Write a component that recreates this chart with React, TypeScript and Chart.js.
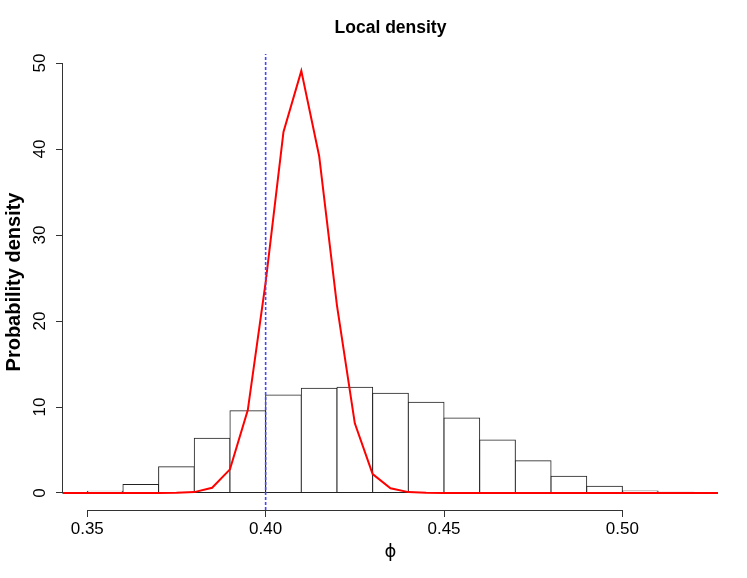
import React, { useEffect, useRef } from "react";
import { Chart, registerables } from "chart.js";

Chart.register(...registerables);

// Histogram (density scale), bins of width 0.01
const histBreaks = [0.35, 0.36, 0.37, 0.38, 0.39, 0.40, 0.41, 0.42, 0.43, 0.44, 0.45, 0.46, 0.47, 0.48, 0.49, 0.50, 0.51, 0.52];
const histDensity = [0.2, 1.0, 3.06, 6.36, 9.57, 11.4, 12.17, 12.29, 11.6, 10.55, 8.72, 6.16, 3.76, 1.94, 0.78, 0.23, 0.08];

// Red local density curve
const densityX = [
  0.340, 0.345, 0.350, 0.355, 0.360, 0.365, 0.370, 0.375, 0.380, 0.385,
  0.390, 0.395, 0.400, 0.405, 0.410, 0.415, 0.420, 0.425, 0.430, 0.435,
  0.440, 0.445, 0.450, 0.455, 0.460, 0.465, 0.470, 0.475, 0.480, 0.485,
  0.490, 0.495, 0.500, 0.505, 0.510, 0.515, 0.520, 0.525, 0.530,
];
const densityY = [
  0, 0, 0, 0, 0, 0, 0, 0.02, 0.1, 0.6,
  2.75, 9.65, 24.5, 42.0, 49.1, 39.2, 21.8, 8.1, 2.2, 0.55,
  0.1, 0.02, 0, 0, 0, 0, 0, 0, 0, 0,
  0, 0, 0, 0, 0, 0, 0, 0, 0,
];

// Vertical reference line
const markerX = 0.40;

// Axes
const xRange = [0.3432, 0.5268];
const yRange = [-1.98, 51.06];
const xTicks = [0.35, 0.40, 0.45, 0.50];
const xTickLabels = ["0.35", "0.40", "0.45", "0.50"];
const yTicks = [0, 10, 20, 30, 40, 50];
const yTickLabels = ["0", "10", "20", "30", "40", "50"];

const titleText = "Local density";
const xTitle = "\u03D5";
const yTitle = "Probability density";

const FONT = "'Liberation Sans', Arial, Helvetica, sans-serif";

const rAxesPlugin = {
  id: "rAxes",
  afterDraw(chart: any) {
    const { ctx, chartArea, scales } = chart;
    const x = scales.x;
    const y = scales.y;
    ctx.save();
    ctx.strokeStyle = "#333";
    ctx.lineWidth = 1;
    const by = Math.round(chartArea.bottom) + 0.5;
    ctx.beginPath();
    ctx.moveTo(Math.round(x.getPixelForValue(xTicks[0])) + 0.5, by);
    ctx.lineTo(Math.round(x.getPixelForValue(xTicks[xTicks.length - 1])) + 0.5, by);
    ctx.stroke();
    const lx = Math.round(chartArea.left) - 0.5;
    ctx.beginPath();
    ctx.moveTo(lx, Math.round(y.getPixelForValue(yTicks[0])) + 0.5);
    ctx.lineTo(lx, Math.round(y.getPixelForValue(yTicks[yTicks.length - 1])) + 0.5);
    ctx.stroke();

    ctx.fillStyle = "#000";
    ctx.font = "17px " + FONT;
    ctx.textAlign = "center";
    ctx.textBaseline = "alphabetic";
    yTicks.forEach((v, i) => {
      const py = y.getPixelForValue(v);
      ctx.save();
      ctx.translate(chartArea.left - 18, py);
      ctx.rotate(-Math.PI / 2);
      ctx.fillText(yTickLabels[i], 0, 0);
      ctx.restore();
    });
    ctx.restore();
  },
};

export default function App() {
  const canvasRef = useRef<HTMLCanvasElement | null>(null);

  useEffect(() => {
    document.body.style.margin = "0";
    document.body.style.overflow = "hidden";
    const canvas = canvasRef.current;
    if (!canvas) return;

    const binCenters = histDensity.map((_, i) => (histBreaks[i] + histBreaks[i + 1]) / 2);

    const chart = new Chart(canvas, {
      type: "bar",
      data: {
        datasets: [
          {
            type: "line",
            data: [
              { x: markerX, y: yRange[0] },
              { x: markerX, y: yRange[1] },
            ],
            borderColor: "rgb(70,70,255)",
            borderWidth: 1.6,
            borderDash: [3, 2],
            pointRadius: 0,
            tension: 0,
          } as any,
          {
            type: "line",
            data: densityX.map((xv, i) => ({ x: xv, y: densityY[i] })),
            borderColor: "#ff0000",
            borderWidth: 2,
            pointRadius: 0,
            tension: 0,
          } as any,
          {
            type: "bar",
            data: binCenters.map((c, i) => ({ x: c, y: histDensity[i] })),
            backgroundColor: "#ffffff",
            borderColor: "#222",
            borderWidth: 1,
            borderSkipped: false,
            inflateAmount: 0.5,
            barPercentage: 1,
            categoryPercentage: 1,
          } as any,
        ],
      },
      options: {
        responsive: false,
        animation: false,
        layout: { padding: { left: 0, right: 29, top: 0, bottom: 0 } },
        plugins: {
          legend: { display: false },
          tooltip: { enabled: false },
          title: {
            display: true,
            text: titleText,
            fullSize: false,
            color: "#000",
            font: { family: FONT, size: 17.5, weight: "bold" },
            padding: { top: 18, bottom: 15 },
          },
        },
        scales: {
          x: {
            type: "linear",
            min: xRange[0],
            max: xRange[1],
            offset: false,
            afterBuildTicks: (s: any) => {
              s.ticks = xTicks.map((v) => ({ value: v }));
            },
            afterFit: (s: any) => {
              s.height = 68;
            },
            grid: {
              offset: false,
              drawOnChartArea: false,
              drawTicks: true,
              tickLength: 7,
              color: "#333",
            },
            border: { display: false },
            ticks: {
              autoSkip: false,
              maxRotation: 0,
              minRotation: 0,
              padding: 2,
              color: "#000",
              font: { family: FONT, size: 17 },
              callback: (_v: any, i: number) => xTickLabels[i],
            },
            title: {
              display: true,
              text: xTitle,
              color: "#000",
              font: { family: "'DejaVu Sans', " + FONT, size: 18 },
              padding: { top: 0, bottom: 15 },
            },
          },
          y: {
            type: "linear",
            min: yRange[0],
            max: yRange[1],
            afterBuildTicks: (s: any) => {
              s.ticks = yTicks.map((v) => ({ value: v }));
            },
            afterFit: (s: any) => {
              s.width = 63;
            },
            grid: {
              drawOnChartArea: false,
              drawTicks: true,
              tickLength: 7,
              color: "#333",
            },
            border: { display: false },
            ticks: { display: false },
            title: {
              display: true,
              text: yTitle,
              color: "#000",
              font: { family: FONT, size: 20, weight: "bold" },
              padding: { top: 2, bottom: 0 },
            },
          },
        },
      } as any,
      plugins: [rAxesPlugin],
    });

    return () => chart.destroy();
  }, []);

  return (
    <div style={{ width: 747, height: 578, background: "#fff" }}>
      <canvas ref={canvasRef} width={747} height={578} style={{ display: "block" }} />
    </div>
  );
}
